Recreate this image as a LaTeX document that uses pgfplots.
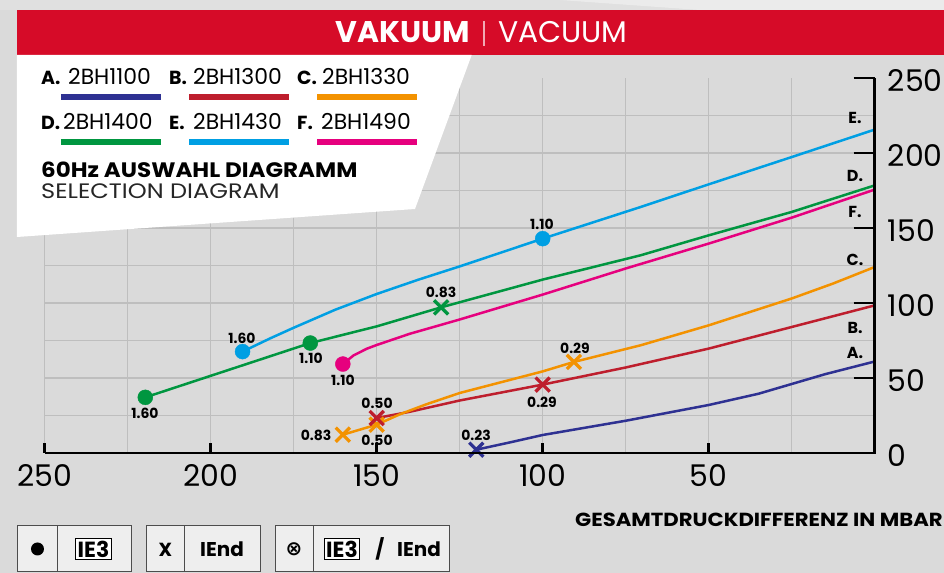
\documentclass[border=0pt]{standalone}
\usepackage{fontspec}
\setmainfont{Poppins}
\newfontfamily\dejavu{DejaVu Sans}
\usepackage{pgfplots}
\pgfplotsset{compat=1.18}
\definecolor{cA}{HTML}{2E3192}
\definecolor{cB}{HTML}{BE1E2D}
\definecolor{cC}{HTML}{F39200}
\definecolor{cD}{HTML}{009640}
\definecolor{cE}{HTML}{009FE3}
\definecolor{cF}{HTML}{E6007E}
\definecolor{barred}{HTML}{D60B28}
\definecolor{bg}{HTML}{DADADA}
\definecolor{gridc}{HTML}{BEBEBE}
\definecolor{boxc}{HTML}{EEEEEE}
\newcommand\fs[1]{\fontsize{#1}{#1}\selectfont}

\begin{document}
\begin{tikzpicture}[x=1bp,y=1bp]
\useasboundingbox (-44.7,-120) rectangle (899.3,453);
% background, pixel coordinates of the reference
\begin{scope}[x=1bp,y=-1bp,shift={(-44.7bp,453bp)}]
  \fill[bg] (0,0) rectangle (944,573);
  \fill[black!12] (0,0) rectangle (944,10);
  \fill[black!8] (560,0) -- (944,0) -- (944,10) -- (700,10) -- cycle;
\end{scope}

\begin{axis}[
  at={(0,0)}, anchor=south west,
  scale only axis, width=830bp, height=375bp,
  xmin=0, xmax=250, ymin=0, ymax=250, x dir=reverse,
  axis line style={draw=none}, clip=false,
  xtick={50,100,150,200,250}, ytick={0,50,100,150,200},
  extra y ticks={250}, extra y tick style={grid=none},
  minor xtick={25,75,125,175,225}, minor ytick={25,75,125,175,225},
  grid=both,
  major grid style={draw=gridc, line width=1.3bp},
  minor grid style={draw=gridc, line width=1.3bp},
  major tick length=0pt, minor tick length=0pt,
  xtick pos=left, ytick pos=right, xticklabel pos=left, yticklabel pos=right,
  /pgf/number format/assume math mode=true,
  xticklabel style={font=\fs{30}, inner sep=0pt, anchor=base, yshift=-34bp},
  yticklabel style={font=\fs{30}, inner sep=0pt, anchor=base west, xshift=13bp, yshift=-14bp},
  ie3/.style={only marks, mark=*, mark size=7.5bp},
  iend/.style={only marks, mark=x, mark size=10bp, line width=3.3bp},
]
% curves
\addplot[cA, line width=2.5bp] coordinates {(120,2.2) (110,7) (100,12) (75,21.5) (50,32) (35,39.5) (25,46) (15,52.5) (0,61)};
\addplot[cB, line width=2.5bp] coordinates {(150,23.3) (140,27.5) (125,35) (100,45.6) (75,57) (50,69.6) (25,84) (0,98.4)};
\addplot[cC, line width=2.5bp] coordinates {(160.2,12.2) (150,18.9) (142.8,26) (135,32.5) (125,40) (100,54.4) (90.6,60.7) (70.5,71.8) (50,85.1) (25,103) (12.5,113) (0,124)};
\addplot[cD, line width=2.5bp] coordinates {(219.7,37.1) (170,73.3) (150,84.4) (130.6,97.1) (100,115.6) (70.5,131.8) (50,145.1) (25,160.7) (0,178.4)};
\addplot[cE, line width=2.5bp] coordinates {(190.4,67.6) (182,76.5) (175,83.5) (162.5,95.5) (150,106) (137.5,115.5) (125,124.4) (100,142.9) (70.5,164) (50,179.1) (25,197.3) (0,215.6)};
\addplot[cF, line width=2.5bp] coordinates {(160.2,59.3) (157,65) (153,69.5) (150,72) (140,79.5) (125,89) (100,105.6) (75,123) (50,139.6) (25,156.9) (0,175.6)};
% IE3 points
\addplot[ie3, cD] coordinates {(219.7,37.1) (170,73.3)};
\addplot[ie3, cE] coordinates {(190.4,67.6) (100,142.9)};
\addplot[ie3, cF] coordinates {(160.2,59.3)};
% IEnd points
\addplot[iend, cA] coordinates {(120,2.2)};
\addplot[iend, cC] coordinates {(160.2,12.2) (150,18.9) (90.6,60.7)};
\addplot[iend, cB] coordinates {(150,23.3) (100,45.6)};
\addplot[iend, cD] coordinates {(130.6,97.1)};
\end{axis}

\begin{scope}[x=1bp,y=-1bp,shift={(-44.7bp,453bp)}]
  % axis lines and ticks
  \draw[black, line width=2.8bp] (44.7,453) -- (874.7,453) -- (874.7,78);
  \foreach \p in {44.7,210.7,376.7,542.7,708.7} \draw[black, line width=2.5bp] (\p,453) -- (\p,443.5);
  \foreach \p in {78,153,228,303,378} \draw[black, line width=2.5bp] (853.5,\p) -- (874.7,\p);
  % curve end labels
  \begin{scope}[font=\bfseries\fs{16}]
    \node at (855,118) {E.};
    \node at (855,176) {D.};
    \node at (855,212) {F.};
    \node at (855,260) {C.};
    \node at (855,328) {B.};
    \node at (855,353) {A.};
  \end{scope}
  % point labels
  \begin{scope}[font=\bfseries\fs{14}]
    \node at (476,435) {0.23};
    \node at (377,403) {0.50};
    \node at (377,440) {0.50};
    \node at (316,435) {0.83};
    \node at (542,402) {0.29};
    \node at (575,348) {0.29};
    \node at (441,292) {0.83};
    \node at (542,224) {1.10};
    \node at (242,338) {1.60};
    \node at (311,358) {1.10};
    \node at (343,380) {1.10};
    \node at (145,413) {1.60};
  \end{scope}
  % title bar
  \fill[barred] (17,10) rectangle (944,55);
  \node[anchor=base east, white, inner sep=0pt, font=\bfseries\fs{30}] at (470,42.7) {VAKUUM};
  \draw[white!65!barred, line width=1.2bp] (484,21) -- (484,46);
  \node[anchor=base west, white, inner sep=0pt, font=\fs{30}] at (498,42.7) {VACUUM};
  % legend panel
  \fill[white] (17,55) -- (471.7,55) -- (415,209) -- (17,237) -- cycle;
  \begin{scope}[inner sep=0pt, font=\fs{22}]
    \node[anchor=base west, font=\bfseries\fs{19}] at (41,85) {A.};
    \node[anchor=base west] at (68,85) {2BH1100};
    \node[anchor=base west, font=\bfseries\fs{19}] at (169,85) {B.};
    \node[anchor=base west] at (193,85) {2BH1300};
    \node[anchor=base west, font=\bfseries\fs{19}] at (297,85) {C.};
    \node[anchor=base west] at (322,85) {2BH1330};
    \node[anchor=base west, font=\bfseries\fs{19}] at (41,130) {D.};
    \node[anchor=base west] at (63,130) {2BH1400};
    \node[anchor=base west, font=\bfseries\fs{19}] at (169,130) {E.};
    \node[anchor=base west] at (193,130) {2BH1430};
    \node[anchor=base west, font=\bfseries\fs{19}] at (297,130) {F.};
    \node[anchor=base west] at (321,130) {2BH1490};
  \end{scope}
  \begin{scope}[line width=6bp]
    \draw[cA] (61,96.7) -- (161,96.7);
    \draw[cB] (189,96.7) -- (289,96.7);
    \draw[cC] (317,96.7) -- (417,96.7);
    \draw[cD] (61,141.7) -- (161,141.7);
    \draw[cE] (189,141.7) -- (289,141.7);
    \draw[cF] (317,141.7) -- (417,141.7);
  \end{scope}
  \node[anchor=base west, inner sep=0pt, font=\bfseries\fs{21}] at (41,177.7) {\scalebox{1.1}[1]{60Hz AUSWAHL DIAGRAMM}};
  \node[anchor=base west, inner sep=0pt, font=\fs{21}, black!85] at (41,199) {\scalebox{1.15}[1]{SELECTION DIAGRAM}};
  % x axis title
  \node[anchor=base east, inner sep=0pt, font=\bfseries\fs{19}] at (943,527) {\scalebox{1.12}[1]{GESAMTDRUCKDIFFERENZ IN MBAR}};
  % marker key boxes
  \begin{scope}[draw=black!70, line width=1bp]
    \filldraw[fill=boxc] (17.7,525.7) rectangle (131.7,571.7);
    \draw (57.3,525.7) -- (57.3,571.7);
    \filldraw[fill=boxc] (146.7,525.7) rectangle (260,571.7);
    \draw (184.3,525.7) -- (184.3,571.7);
    \filldraw[fill=boxc] (275,525.7) rectangle (449.3,571.7);
    \draw (313.3,525.7) -- (313.3,571.7);
  \end{scope}
  \fill[black] (37.5,549) circle (6.5);
  \node[draw=black, fill=white, line width=0.9bp, inner sep=2bp, font=\bfseries\fs{22}] at (93.5,549) {IE3};
  \node[font=\bfseries\fs{19}] at (165.5,550) {X};
  \node[font=\bfseries\fs{20}] at (222,549) {IEnd};
  \node[font=\dejavu\bfseries\fs{20}] at (294,549) {⊗};
  \node[draw=black, fill=white, line width=0.9bp, inner sep=2bp, font=\bfseries\fs{22}] at (342,549) {IE3};
  \node[font=\bfseries\fs{20}] at (380,549) {/};
  \node[font=\bfseries\fs{20}] at (419,549) {IEnd};
\end{scope}
\end{tikzpicture}
\end{document}
